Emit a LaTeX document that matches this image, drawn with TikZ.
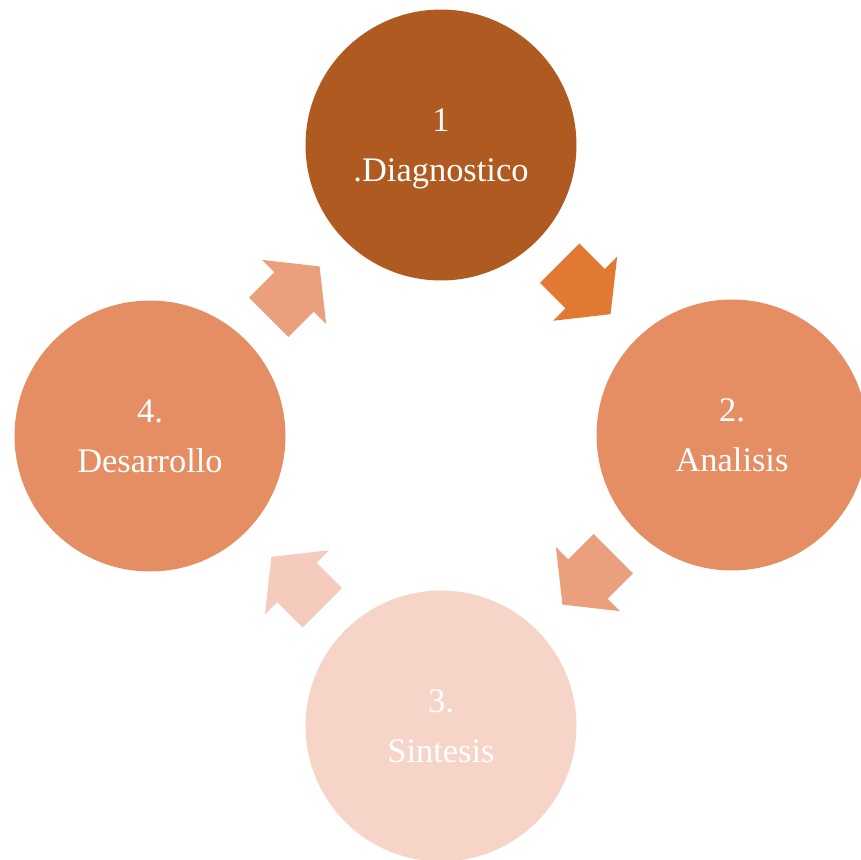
\documentclass[tikz,border=0pt]{standalone}
\usepackage{fontspec}
\setmainfont{Liberation Serif}
\usepackage{xcolor}
\definecolor{diagbrown}{RGB}{174,90,33}
\definecolor{midorange}{RGB}{229,141,99}
\definecolor{palepink}{RGB}{247,212,200}
\definecolor{arrorange}{RGB}{225,121,50}
\definecolor{arrsalmon}{RGB}{234,160,124}
\definecolor{arrpink}{RGB}{245,203,189}
\usepackage{tikz}
\usetikzlibrary{shapes.arrows,positioning,calc}
\tikzset{
	fase/.style   = {circle,minimum size=5.42cm,inner sep=0pt,
		align=center,text=white,text depth=0pt,
		font=\fontsize{19.6}{28.5}\selectfont},
	flecha/.style = {single arrow,draw=none,inner xsep=0pt,inner ysep=0.55cm,
		minimum height=1.44cm,minimum width=1.8cm,
		single arrow head extend=0.35cm,
		single arrow tip angle=103,anchor=tail},
}
\begin{document}
\begin{tikzpicture}[x=0.02cm,y=-0.02cm]
			\useasboundingbox (0,0) rectangle (861,859);
			
			%% Fases del ciclo
			\node (diag) [fase,fill=diagbrown] at (441,145) {1\\.Diagnostico};
			\node (anal) [fase,fill=midorange] at (732,435) {2.\\Analisis};
			\node (sint) [fase,fill=palepink]  at (441,726) {3.\\Sintesis};
			\node (desa) [fase,fill=midorange] at (150,436) {4.\\Desarrollo};
			
			%% Flechas
			\node (f12) [flecha,fill=arrorange,rotate=-45]  at ($(diag)!0.407!(anal)$) {};
			\node (f23) [flecha,fill=arrsalmon,rotate=-135] at ($(anal)!0.407!(sint)$) {};
			\node (f34) [flecha,fill=arrpink,rotate=135]    at ($(sint)!0.407!(desa)$) {};
			\node (f41) [flecha,fill=arrsalmon,rotate=45]   at ($(desa)!0.407!(diag)$) {};
		\end{tikzpicture}
\end{document}
